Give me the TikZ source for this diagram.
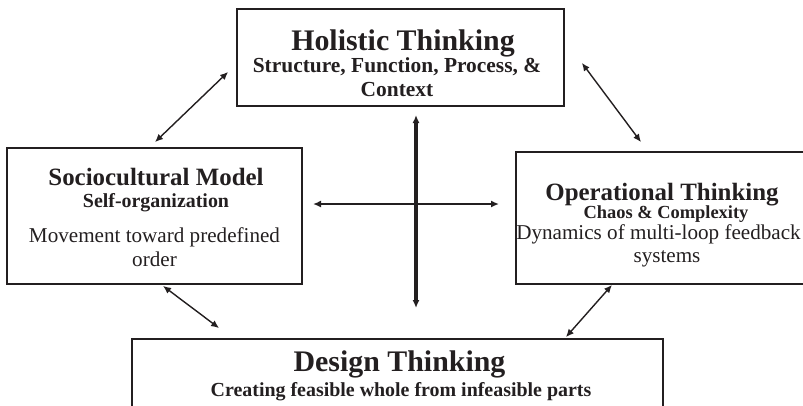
\documentclass[tikz,border=0pt]{standalone}
\usepackage{fontspec}
\setmainfont{Liberation Serif}
\usetikzlibrary{arrows.meta}
\definecolor{ink}{HTML}{231F20}
\newcommand\fs[1]{\fontsize{#1}{#1}\selectfont}

\begin{document}
\begin{tikzpicture}[x=1bp,y=-1bp,ink,
  box/.style={draw,line width=1.8bp,inner sep=0pt},
  txt/.style={anchor=base,inner sep=0pt},
  >={Latex[length=8bp,width=7bp]}]
   \useasboundingbox (0,0) rectangle (803,405);
   % boxes
   \node[box,minimum width=327bp,minimum height=97bp]  (holistic) at (400.5,57.5) {};
   \node[box,minimum width=295bp,minimum height=136bp] (socio)    at (154.5,216) {};
   \node[box,minimum width=292bp,minimum height=132bp] (oper)     at (662,218) {};
   \node[box,minimum width=531bp,minimum height=100bp] (design)   at (397.5,389) {};
   % texts
   \node[txt] (h1) at (403,50)   {\fs{30}\bfseries Holistic Thinking};
   \node[txt] (h2) at (397,72)   {\fs{21.5}\bfseries Structure, Function, Process, \&};
   \node[txt] (h3) at (397,96.5) {\fs{21.5}\bfseries Context};
   \node[txt] (s1) at (156,185)  {\fs{25}\bfseries Sociocultural Model};
   \node[txt] (s2) at (156,207.5){\fs{20}\bfseries Self-organization};
   \node[txt] (s3) at (154.5,242.5) {\fs{21.2}Movement toward predefined};
   \node[txt] (s4) at (154.5,266)   {\fs{21.2}order};
   \node[txt] (o1) at (662,200)  {\fs{25}\bfseries Operational Thinking};
   \node[txt] (o2) at (666,218.5){\fs{18.5}\bfseries Chaos \& Complexity};
   \node[txt] (o3) at (658.5,239.5) {\fs{21.2}Dynamics of multi-loop feedback};
   \node[txt] (o4) at (667,262)  {\fs{21.2}systems};
   \node[txt] (d1) at (399.5,371) {\fs{30}\bfseries Design Thinking};
   \node[txt] (d2) at (401,396.5) {\fs{20}\bfseries Creating feasible whole from infeasible parts};
   % cross
   \coordinate (up)    at (416,115);
   \coordinate (down)  at (416,308);
   \coordinate (left)  at (313,204);
   \coordinate (right) at (499,204);
   \draw[<->,line width=3.5bp] (down) -- (up);
   \draw[<->,line width=2.5bp] (left) -- (right);
   % links
   \path[<->,line width=1.4bp]
    ([xshift=0.5bp,yshift=5bp]socio.north) edge ([xshift=-8bp,yshift=35bp]holistic.south west)
    ([xshift=-21bp,yshift=9bp]oper.north)   edge ([xshift=17bp,yshift=44bp]holistic.south east)
    ([xshift=8.5bp,yshift=-1bp]socio.south) edge ([xshift=88bp,yshift=10bp]design.north west)
    ([xshift=-50bp]oper.south)              edge ([xshift=-98bp,yshift=1bp]design.north east);
\end{tikzpicture}
\end{document}
